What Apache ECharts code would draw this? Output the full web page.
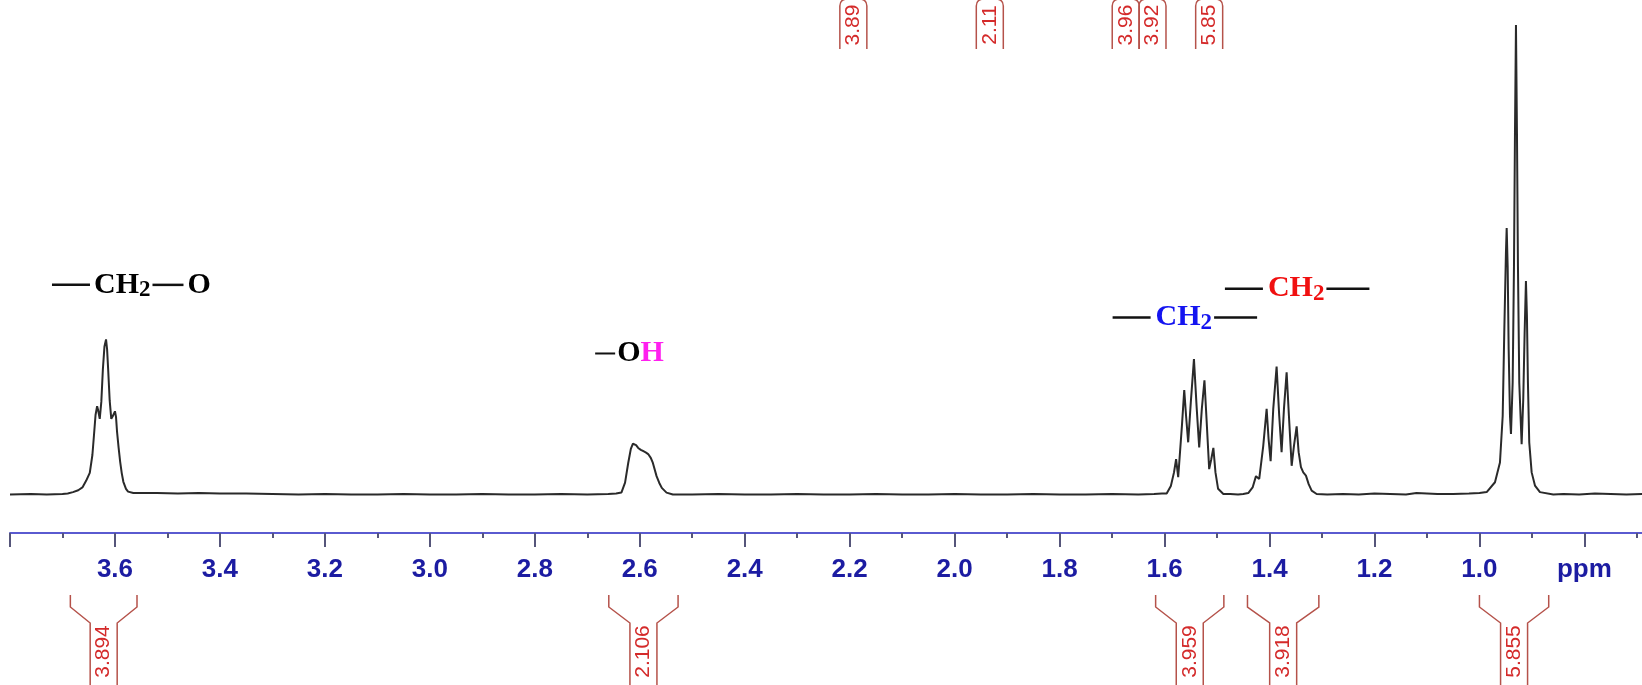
<!DOCTYPE html>
<html><head><meta charset="utf-8">
<script src="https://cdn.jsdelivr.net/npm/echarts@6/dist/echarts.min.js"></script>
<style>html,body{margin:0;padding:0;background:#fff;}#c{width:1642px;height:685px;}</style>
</head><body><div id="c"></div>
<script>
// ---------------- data (ppm, relative intensity; tallest line = 100) ----------------
const baselineA = [[3.800,0.1],[3.760,0.2],[3.730,0.1],[3.700,0.2]];
const peakCH2O = [[3.690,0.3],[3.680,0.6],[3.670,1.0],[3.662,1.6],[3.655,3.0],[3.648,4.7],[3.643,8.5],[3.640,12.7],[3.637,17.0],[3.634,18.9],[3.632,18.0],[3.629,16.2],[3.626,19.8],[3.623,26.8],[3.620,31.6],[3.617,33.1],[3.615,31.0],[3.613,26.8],[3.610,20.0],[3.607,16.2],[3.604,16.8],[3.600,17.8],[3.598,16.6],[3.596,13.4],[3.593,10.0],[3.590,7.0],[3.587,4.6],[3.584,2.8],[3.579,1.3],[3.575,0.7],[3.565,0.4],[3.552,0.4]];
const baselineB = [[3.52,0.4],[3.48,0.3],[3.44,0.4],[3.40,0.3],[3.35,0.3],[3.30,0.2],[3.25,0.1],[3.20,0.2],[3.15,0.1],[3.10,0.1],[3.05,0.2],[3.00,0.1],[2.95,0.1],[2.90,0.2],[2.85,0.1],[2.80,0.1],[2.75,0.2],[2.70,0.1],[2.66,0.2],[2.645,0.3]];
const peakOH = [[2.635,0.5],[2.628,2.6],[2.622,6.8],[2.617,9.8],[2.613,10.9],[2.611,11.1],[2.607,10.6],[2.603,10.0],[2.598,9.6],[2.593,9.3],[2.588,9.0],[2.584,8.7],[2.579,7.9],[2.575,6.8],[2.568,4.0],[2.563,2.6],[2.558,1.5],[2.549,0.5],[2.537,0.1]];
const baselineC = [[2.50,0.1],[2.45,0.2],[2.40,0.1],[2.35,0.1],[2.30,0.2],[2.25,0.1],[2.20,0.1],[2.15,0.2],[2.10,0.1],[2.05,0.1],[2.00,0.2],[1.95,0.1],[1.90,0.1],[1.85,0.2],[1.80,0.1],[1.75,0.1],[1.70,0.2],[1.65,0.1],[1.62,0.2],[1.605,0.3]];
const peakCH2a = [[1.596,0.3],[1.588,1.9],[1.582,4.8],[1.578,7.6],[1.574,3.8],[1.567,14.6],[1.5625,22.3],[1.559,16.8],[1.555,11.2],[1.550,19.7],[1.544,28.9],[1.539,18.9],[1.534,10.1],[1.529,18.3],[1.524,24.4],[1.520,16.1],[1.515,5.5],[1.511,7.6],[1.507,10.0],[1.503,4.8],[1.498,1.3],[1.488,0.2]];
const baselineD = [[1.475,0.2],[1.460,0.1],[1.450,0.2]];
const peakCH2b = [[1.4405,0.4],[1.4322,1.6],[1.4258,4.0],[1.4196,3.4],[1.4120,10.4],[1.4055,18.3],[1.4018,11.9],[1.3979,7.2],[1.3929,18.3],[1.3865,27.3],[1.3815,16.8],[1.3770,9.1],[1.3725,18.3],[1.3674,26.1],[1.3630,16.8],[1.3578,6.2],[1.3535,10.4],[1.3483,14.6],[1.3445,9.1],[1.3401,5.9],[1.3357,4.8],[1.3306,4.1],[1.3254,2.3],[1.3197,0.9],[1.3102,0.2]];
const baselineE = [[1.29,0.1],[1.26,0.2],[1.23,0.1],[1.20,0.3],[1.17,0.2],[1.14,0.1],[1.12,0.4],[1.10,0.3],[1.08,0.2],[1.05,0.2],[1.02,0.3],[1.00,0.4]];
const peakCH3 = [[0.9862,0.6],[0.9704,2.7],[0.9609,6.9],[0.9557,16.8],[0.9527,34.5],[0.9495,51.6],[0.9481,56.8],[0.9462,48.6],[0.9443,31.0],[0.9418,16.8],[0.9399,13.0],[0.9367,23.9],[0.9342,48.6],[0.9323,77.0],[0.9304,100],[0.9285,77.1],[0.9266,48.6],[0.9241,23.9],[0.9196,10.8],[0.9165,20.4],[0.9139,34.5],[0.9114,45.5],[0.9095,38.0],[0.9076,23.9],[0.9051,11.2],[0.9005,4.8],[0.8942,2.0],[0.8847,0.6],[0.8593,0.1]];
const baselineF = [[0.84,0.2],[0.81,0.1],[0.78,0.3],[0.75,0.2],[0.72,0.1],[0.69,0.2]];

// integral ranges (ppm from, ppm to) and values below the axis
const integralFrom = [3.685, 2.659, 1.617, 1.442, 1.000];
const integralTo   = [3.558, 2.527, 1.487, 1.306, 0.868];
const integralValues = ['3.894', '2.106', '3.959', '3.918', '5.855'];
// rounded integral labels at the top
const topIntegralPpm = [2.193, 1.933, 1.674, 1.623, 1.515];
const topIntegralValues = ['3.89', '2.11', '3.96', '3.92', '5.85'];
// group annotations: anchor (ppm, intensity)
const groupPpm = [3.720, 2.685, 1.699, 1.485];
const groupLevel = [44.7, 30.1, 37.75, 43.9];
const groupTexts = [
  '{d| }{g| }{m|CH}{s|2}{g2| }{d2| }{g| }{m|O}',
  '{dm| }{g2| }{m|O}{mh|H}',
  '{d| }{g5| }{mb|CH}{sb|2}{g2| }{d3| }',
  '{d| }{g5| }{mr|CH}{sr|2}{g2| }{d3| }'
];
// axis ticks
const tickLabels = { '3.6':'3.6','3.4':'3.4','3.2':'3.2','3.0':'3.0','2.8':'2.8','2.6':'2.6','2.4':'2.4','2.2':'2.2','2.0':'2.0','1.8':'1.8','1.6':'1.6','1.4':'1.4','1.2':'1.2','1.0':'1.0','0.8':'ppm' };

// ---------------- chart ----------------
const trace = [].concat(baselineA, peakCH2O, baselineB, peakOH, baselineC, peakCH2a, baselineD, peakCH2b, baselineE, peakCH3, baselineF);
const Y_MIN = -8.1, Y_MAX = 100;
const serif = '"Liberation Serif", "Times New Roman", serif';
const lineCol = '#b5524a', numCol = '#d42a2a';

function dash(w){ return { width: w, height: 2.5, lineHeight: 3, backgroundColor: '#111' }; }
function main(c){ return { fontFamily: serif, fontWeight: 'bold', fontSize: 30, lineHeight: 34, fill: c }; }
function sub(c){ return { fontFamily: serif, fontWeight: 'bold', fontSize: 23, lineHeight: 23, verticalAlign: 'bottom', fill: c }; }
const rich = {
  d: dash(38), d2: dash(31), d3: dash(43), dm: { width: 20, height: 2, lineHeight: 2, backgroundColor: '#111' },
  g: { width: 4, lineHeight: 3 }, g2: { width: 2, lineHeight: 3 }, g5: { width: 5, lineHeight: 3 },
  m: main('#000'), s: sub('#000'),
  mb: main('#1414f0'), sb: sub('#1414f0'),
  mr: main('#f01010'), sr: sub('#f01010'),
  mh: main('#ff1fef')
};

const chart = echarts.init(document.getElementById('c'), null, { renderer: 'canvas' });
chart.setOption({
  animation: false,
  backgroundColor: '#ffffff',
  grid: { left: 10, width: 1679.36, top: 25, bottom: 152, containLabel: false, outerBoundsMode: 'none' },
  xAxis: {
    type: 'value', inverse: true, min: 0.6, max: 3.8, interval: 0.2,
    axisLine: { show: true, onZero: false, lineStyle: { color: '#5a5ad0', width: 2 } },
    axisTick: { show: true, length: 14, lineStyle: { color: '#55557a', width: 2 } },
    minorTick: { show: true, splitNumber: 2, length: 5, lineStyle: { color: '#55557a', width: 2 } },
    splitLine: { show: false }, minorSplitLine: { show: false },
    axisLabel: {
      margin: 24, color: '#1c1ca2', fontFamily: '"Liberation Sans", Arial, sans-serif', fontWeight: 'bold', fontSize: 26,
      showMinLabel: true, showMaxLabel: true,
      formatter: function (v) { const k = (Math.round(v * 10) / 10).toFixed(1); return tickLabels[k] || ''; }
    }
  },
  yAxis: { type: 'value', min: Y_MIN, max: Y_MAX, show: false },
  series: [
    {
      type: 'line', data: trace, showSymbol: false, symbol: 'none', clip: false, z: 3,
      lineStyle: { color: '#2a2a2a', width: 2 }
    },
    {
      type: 'custom', clip: false, z: 4,
      data: integralFrom.map((f, i) => [f, integralTo[i], 0]),
      encode: { x: [0, 1], y: 2 },
      renderItem: function (params, api) {
        const i = params.dataIndex;
        const xL = api.coord([api.value(0), 0])[0];
        const xR = api.coord([api.value(1), 0])[0];
        const ay = api.coord([api.value(0), Y_MIN])[1];
        const xc = (xL + xR) / 2, hw = 13.5;
        const st = { stroke: lineCol, lineWidth: 1.5, fill: 'none' };
        return { type: 'group', children: [
          { type: 'polyline', shape: { points: [[xL, ay + 62], [xL, ay + 74], [xc - hw, ay + 90], [xc - hw, ay + 175]] }, style: st },
          { type: 'polyline', shape: { points: [[xR, ay + 62], [xR, ay + 74], [xc + hw, ay + 90], [xc + hw, ay + 175]] }, style: st },
          { type: 'text', x: xc, y: ay + 118.5, rotation: Math.PI / 2,
            style: { text: integralValues[i], fill: numCol, font: '21px "Liberation Sans", Arial, sans-serif', align: 'center', verticalAlign: 'middle' } }
        ]};
      }
    },
    {
      type: 'custom', clip: false, z: 4,
      data: topIntegralPpm.map(p => [p, Y_MAX]),
      renderItem: function (params, api) {
        const i = params.dataIndex;
        const xc = api.coord([api.value(0), Y_MAX])[0];
        const hw = 13.5, yb = 49, yt = 6;
        const st = { stroke: lineCol, lineWidth: 1.5, fill: 'none' };
        return { type: 'group', children: [
          { type: 'line', shape: { x1: xc - hw, y1: yb, x2: xc - hw, y2: yt }, style: st },
          { type: 'line', shape: { x1: xc + hw, y1: yb, x2: xc + hw, y2: yt }, style: st },
          { type: 'bezierCurve', shape: { x1: xc - hw, y1: yt, cpx1: xc - hw, cpy1: -1, x2: xc - hw + 8, y2: -1 }, style: st },
          { type: 'bezierCurve', shape: { x1: xc + hw, y1: yt, cpx1: xc + hw, cpy1: -1, x2: xc + hw - 8, y2: -1 }, style: st },
          { type: 'text', x: xc, y: 25, rotation: Math.PI / 2,
            style: { text: topIntegralValues[i], fill: numCol, font: '21px "Liberation Sans", Arial, sans-serif', align: 'center', verticalAlign: 'middle' } }
        ]};
      }
    },
    {
      type: 'custom', clip: false, z: 5,
      data: groupPpm.map((p, i) => [p, groupLevel[i]]),
      renderItem: function (params, api) {
        const i = params.dataIndex;
        const pt = api.coord([api.value(0), api.value(1)]);
        return { type: 'text', x: pt[0], y: pt[1],
          style: { text: groupTexts[i], rich: rich, font: 'bold 30px ' + serif, fill: '#000', align: 'left', verticalAlign: 'middle' } };
      }
    }
  ]
});
</script>
</body></html>
